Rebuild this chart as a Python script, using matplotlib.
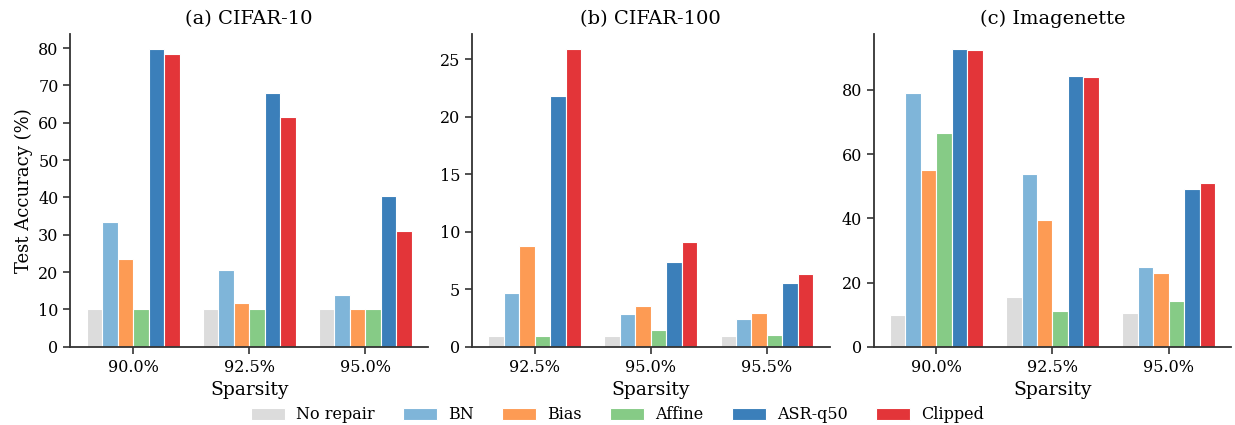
import numpy as np
import matplotlib
matplotlib.use('Agg')
import matplotlib.pyplot as plt

plt.rcParams['font.family'] = 'DejaVu Serif'

methods = ['No repair', 'BN', 'Bias', 'Affine', 'ASR-q50', 'Clipped']
colors = ['#dcdcdc', '#7fb5d9', '#fd9b54', '#86cb86', '#3b7fba', '#e33539']

titles = ['(a) CIFAR-10', '(b) CIFAR-100', '(c) Imagenette']
sparsity_c10 = ['90.0%', '92.5%', '95.0%']
sparsity_c100 = ['92.5%', '95.0%', '95.5%']
sparsity_inet = ['90.0%', '92.5%', '95.0%']

# rows = sparsity level, columns = method
acc_c10 = [[10.0, 33.4, 23.6, 10.0, 79.8, 78.5],
           [10.0, 20.6, 11.7, 10.0, 67.9, 61.5],
           [10.0, 13.8, 10.0, 10.0, 40.4, 31.0]]
acc_c100 = [[0.95, 4.65, 8.73, 0.95, 21.8, 25.9],
            [0.95, 2.85, 3.55, 1.43, 7.37, 9.14],
            [0.95, 2.44, 2.91, 1.02, 5.59, 6.34]]
acc_inet = [[10.0, 79.2, 55.2, 66.7, 92.8, 92.4],
            [15.6, 53.8, 39.6, 11.1, 84.5, 84.1],
            [10.5, 24.8, 22.9, 14.4, 49.1, 51.0]]

fig, axes = plt.subplots(1, 3, figsize=(12.35, 4.25), dpi=100)
fig.subplots_adjust(left=0.057, right=0.997, top=0.92, bottom=0.184, wspace=0.123)

width = 0.8 / len(methods)
panels = [(acc_c10, sparsity_c10), (acc_c100, sparsity_c100), (acc_inet, sparsity_inet)]
for ax, title, (acc, labels) in zip(axes, titles, panels):
    acc = np.array(acc)
    x = np.arange(len(labels))
    for j, m in enumerate(methods):
        ax.bar(x - 0.4 + width * (j + 0.5), acc[:, j], width, color=colors[j],
               edgecolor='white', linewidth=0.8, label=m)
    ax.set_xticks(x)
    ax.set_xticklabels(labels)
    ax.tick_params(axis='both', labelsize=11.5, length=5, width=1.2, color='#333333')
    ax.set_xlabel('Sparsity', fontsize=13.5)
    ax.set_title(title, fontsize=14, pad=7)
    ax.spines['top'].set_visible(False)
    ax.spines['right'].set_visible(False)
    for s in ['left', 'bottom']:
        ax.spines[s].set_color('#333333')
        ax.spines[s].set_linewidth(1.3)

axes[0].set_ylabel('Test Accuracy (%)', fontsize=13)
axes[2].set_yticks([0, 20, 40, 60, 80])

handles, leg_labels = axes[0].get_legend_handles_labels()
fig.legend(handles, leg_labels, loc='lower center', ncol=6, frameon=False,
           fontsize=11.5, handlelength=2.1, handleheight=0.8, columnspacing=1.8,
           handletextpad=0.7, bbox_to_anchor=(0.5, -0.03))

fig.savefig('out.png', dpi=100)
